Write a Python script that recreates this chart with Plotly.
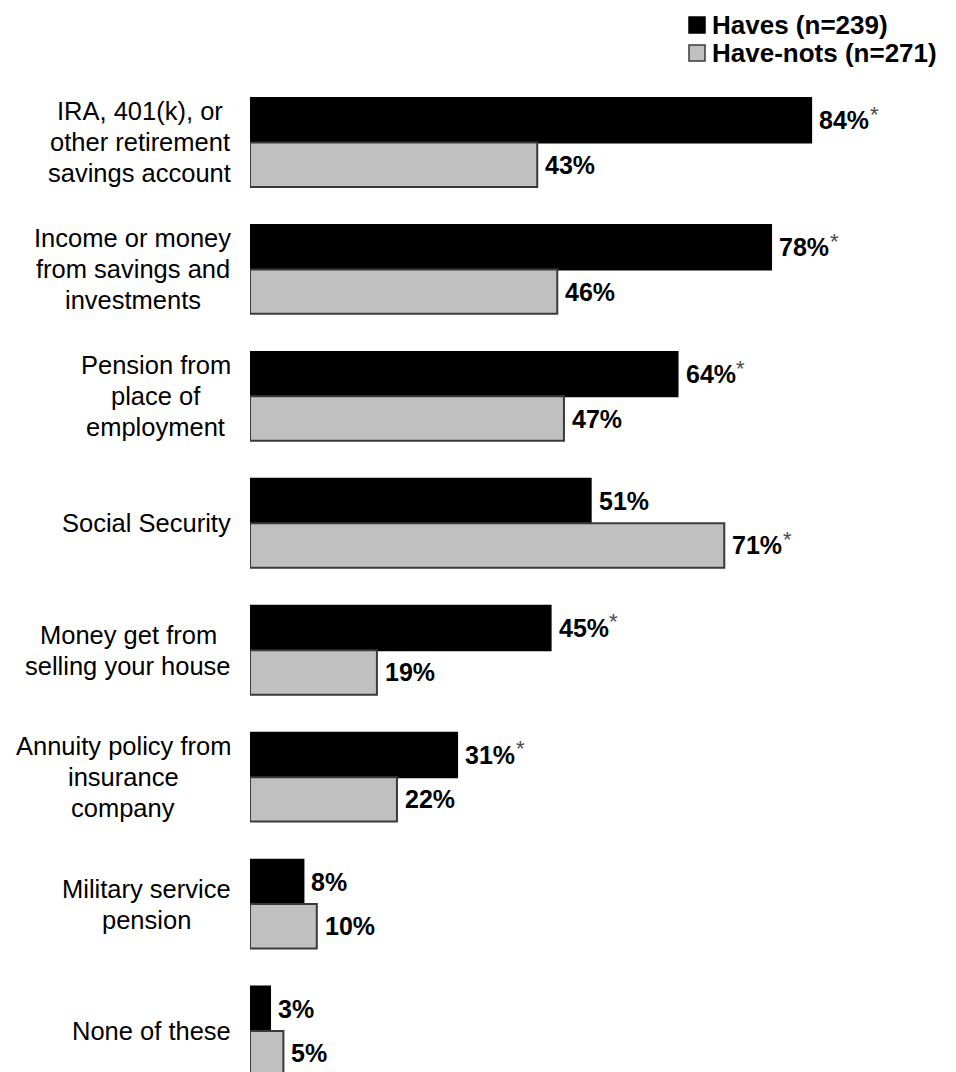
import plotly.graph_objects as go

# Retirement income sources, Haves vs Have-nots (percent)
categories = [
    ["IRA, 401(k), or", "other retirement", "savings account"],
    ["Income or money", "from savings and", "investments"],
    ["Pension from", "place of", "employment"],
    ["Social Security"],
    ["Money get from", "selling your house"],
    ["Annuity policy from", "insurance", "company"],
    ["Military service", "pension"],
    ["None of these"],
]
haves = [84, 78, 64, 51, 45, 31, 8, 3]
have_nots = [43, 46, 47, 71, 19, 22, 10, 5]
# significant-difference markers
haves_sig = [True, True, True, False, True, True, False, False]
have_nots_sig = [False, False, False, True, False, False, False, False]

series_names = ["Haves (n=239)", "Have-nots (n=271)"]
colors = ["#000000", "#c0c0c0"]
outline = ["#000000", "#3a3a3a"]

FONT = "Arial, Liberation Sans, sans-serif"
W, H = 956, 1072
L, R, T, B = 250, 38, 79, 0
BARGAP = 0.30
half = (1 - BARGAP) / 4  # centre offset of each bar within a group
LINE_H = 31
CAT_SIZE = 25.5
LABEL_RIGHT = 19  # gap between label block and the bars, px

# Arial advance widths (1/1000 em), used to centre the lines of each label block
_w = {" ": 278, "(": 333, ")": 333, ",": 278}
_w.update({d: 556 for d in "0123456789"})
_w.update(dict(zip("abcdefghijklmnopqrstuvwxyz",
                   [556, 556, 500, 556, 556, 278, 556, 556, 222, 222, 500, 222, 833,
                    556, 556, 556, 556, 333, 500, 278, 556, 500, 722, 500, 500, 500])))
_w.update(dict(zip("ABCDEFGHIJKLMNOPQRSTUVWXYZ",
                   [667, 667, 722, 722, 667, 611, 778, 722, 278, 500, 667, 556, 833,
                    722, 778, 667, 778, 722, 667, 611, 722, 667, 944, 667, 667, 611])))

def text_width(s, size):
    return sum(_w.get(ch, 556) for ch in s) * size / 1000

ypos = list(range(len(categories)))

fig = go.Figure()
for vals, name, c, lc in zip([haves, have_nots], series_names, colors, outline):
    fig.add_trace(go.Bar(
        x=vals, y=ypos, orientation="h", name=name,
        marker=dict(color=c, line=dict(color=lc, width=2)),
        showlegend=False, hoverinfo="skip",
    ))

annotations = []
# category labels: block right-aligned to the bars, lines centred within the block
for i, lines in enumerate(categories):
    n = len(lines)
    block_w = max(text_width(s, CAT_SIZE) for s in lines)
    centre = -LABEL_RIGHT - block_w / 2
    for k, line in enumerate(lines):
        annotations.append(dict(
            x=0, y=i, xref="x", yref="y", text=line, showarrow=False,
            xanchor="center", yanchor="middle",
            xshift=centre, yshift=-(k - (n - 1) / 2) * LINE_H,
            font=dict(family=FONT, size=CAT_SIZE, color="#000000"),
        ))

# value labels and asterisks
for vals, sig, off in [(haves, haves_sig, -half), (have_nots, have_nots_sig, half)]:
    for i, (v, s) in enumerate(zip(vals, sig)):
        annotations.append(dict(
            x=v, y=i + off, xref="x", yref="y", text=f"<b>{v}%</b>",
            showarrow=False, xanchor="left", yanchor="middle", xshift=6,
            font=dict(family=FONT, size=25, color="#000000"),
        ))
        if s:
            annotations.append(dict(
                x=v, y=i + off, xref="x", yref="y", text="*",
                showarrow=False, xanchor="center", yanchor="middle",
                xshift=63, yshift=6,
                font=dict(family=FONT, size=22, color="#4a4a4a"),
            ))

# legend drawn as squares and bold labels above the plot
pw = W - L - R
ph = H - T - B
def px_x(p):
    return (p - L) / pw
def px_y(p):
    return 1 - (p - T) / ph

shapes = []
for k, (name, c, lc) in enumerate(zip(series_names, colors, outline)):
    cy = 25 + 28 * k
    shapes.append(dict(
        type="rect", xref="paper", yref="paper",
        x0=px_x(689), x1=px_x(705), y0=px_y(cy + 8), y1=px_y(cy - 8),
        fillcolor=c, line=dict(color=lc, width=1.5),
    ))
    annotations.append(dict(
        x=px_x(710), y=px_y(cy), xref="paper", yref="paper",
        text=f"<b>{name}</b>", showarrow=False, xanchor="left", yanchor="middle",
        font=dict(family=FONT, size=26, color="#000000"),
    ))

fig.update_layout(
    width=W, height=H,
    margin=dict(l=L, r=R, t=T, b=B, pad=0),
    barmode="group", bargap=BARGAP, bargroupgap=0,
    plot_bgcolor="#ffffff", paper_bgcolor="#ffffff",
    xaxis=dict(range=[0, 100], visible=False, fixedrange=True),
    yaxis=dict(range=[len(categories) - 0.677, -0.5], visible=False, fixedrange=True),
    annotations=annotations, shapes=shapes,
    font=dict(family=FONT),
)

fig.write_html("out.html")
